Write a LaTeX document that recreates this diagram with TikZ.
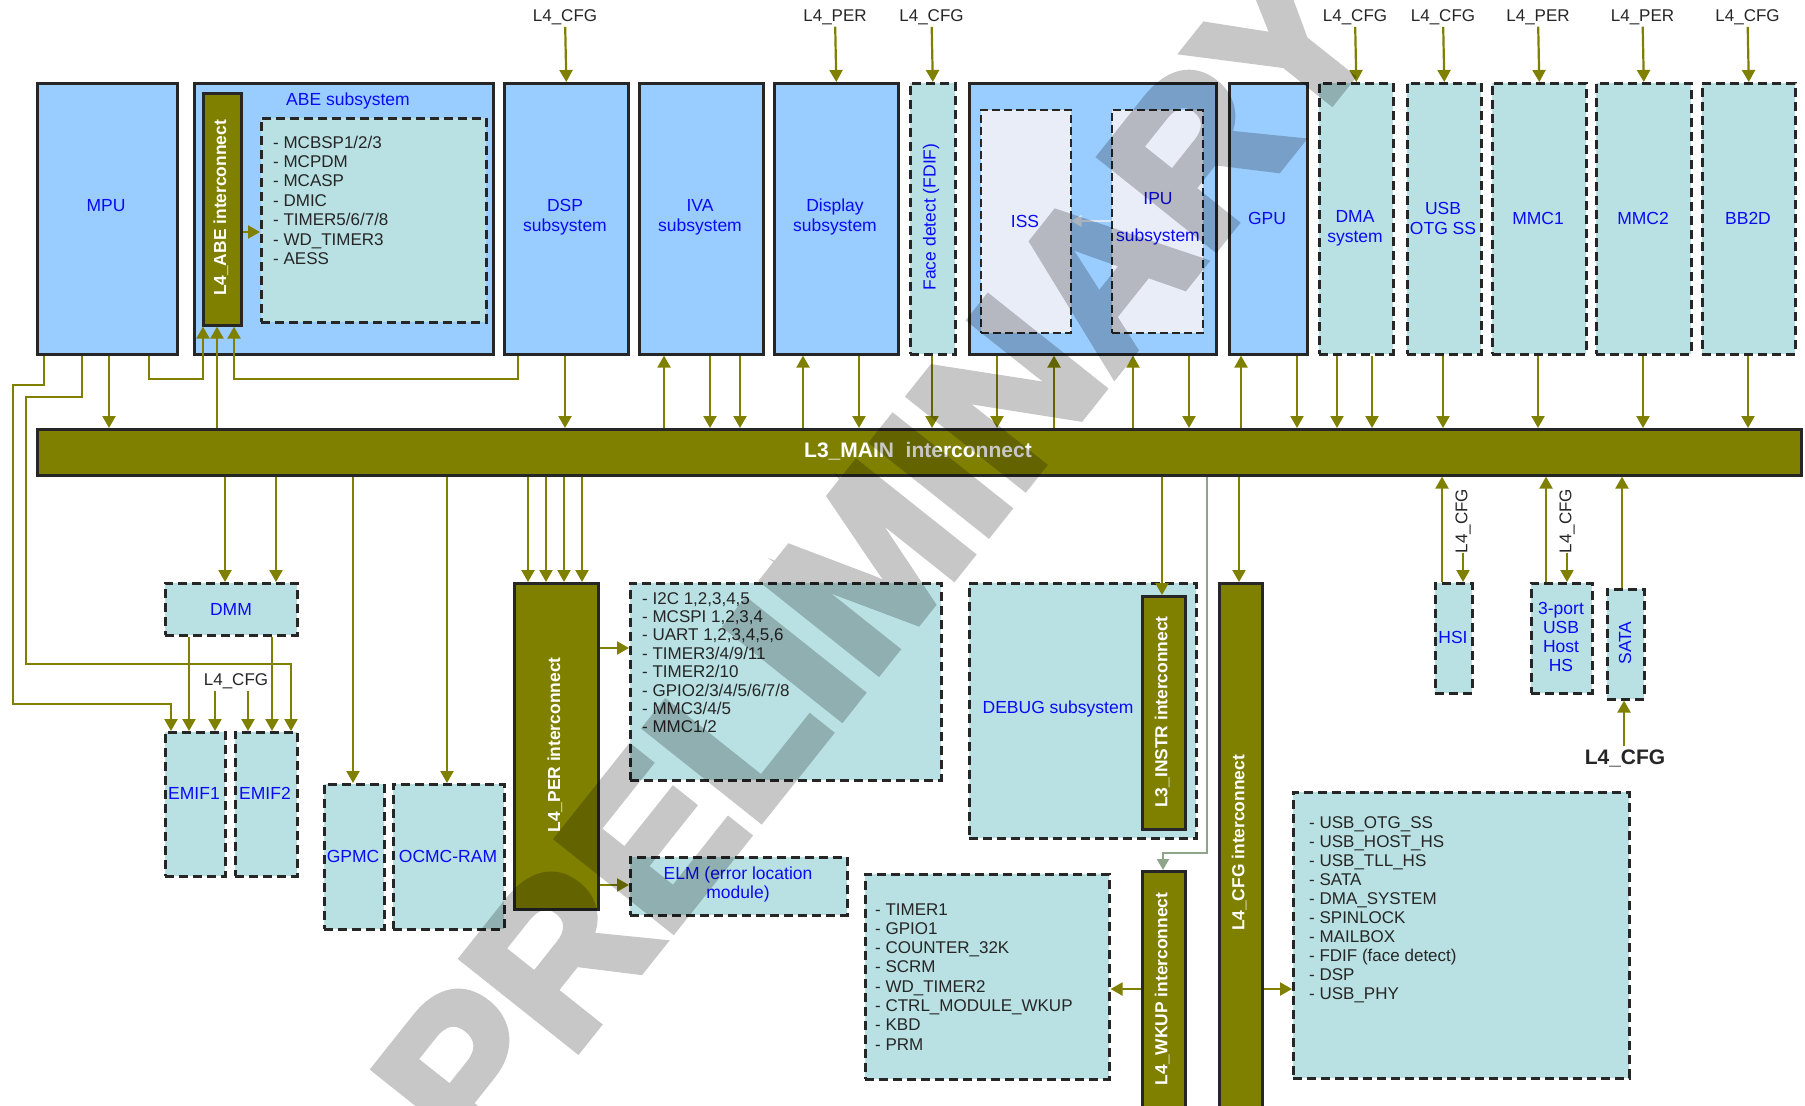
\documentclass[tikz,border=0pt]{standalone}
\usepackage{fontspec}
\setmainfont{Liberation Sans}
\newfontface\wmfont{Liberation Sans Bold}[FakeBold=4]
\usetikzlibrary{arrows.meta}
\definecolor{bord}{HTML}{262626}
\definecolor{lblue}{HTML}{99CCFF}
\definecolor{cyanf}{HTML}{B9E1E3}
\definecolor{palef}{HTML}{E8EDF8}
\definecolor{ol}{HTML}{808000}
\definecolor{tblue}{HTML}{0A0AF5}
\definecolor{tdark}{HTML}{262626}
\definecolor{gline}{HTML}{8FA58A}
\definecolor{warrow}{HTML}{DCE6F6}
\newcommand\mybox[6]{\node[#1, anchor=north west, minimum width={(#4)-(#2)}, minimum height={(#5)-(#3)}] (#6) at (#2,#3) {};}
\newcommand\va[3]{\coordinate (tmpx) at (#1,0); \draw[arr] (#2 -| tmpx) -- (#3 -| tmpx);}
\newcommand\ha[3]{\coordinate (tmpy) at (0,#1); \draw[arr] (#2 |- tmpy) -- (#3 |- tmpy);}
\begin{document}
\begin{tikzpicture}[x=1pt,y=-1pt,
  blk/.style={draw=bord, line width=2.6pt, fill=lblue, inner sep=0pt},
  dbox/.style={draw=bord, line width=2.6pt, dash pattern=on 9pt off 5pt, fill=cyanf, inner sep=0pt},
  pbox/.style={draw=bord, line width=1.6pt, dash pattern=on 8pt off 4pt, fill=palef, inner sep=0pt},
  bar/.style={draw=bord, line width=2.6pt, fill=ol, inner sep=0pt},
  arr/.style={draw=ol, line width=2.2pt, -{Triangle[length=12pt,width=13pt]}},
  garr/.style={draw=gline, line width=2pt, -{Triangle[length=11pt,width=12pt]}},
  bl/.style={text=tblue, font=\fontsize{17.5}{20}\selectfont, align=center, inner sep=0pt},
  wt/.style={text=white, font=\bfseries\fontsize{17.4}{20}\selectfont, inner sep=0pt},
  dk/.style={text=tdark, font=\fontsize{17}{20}\selectfont, inner sep=0pt, inner ysep=2pt},
]
\useasboundingbox[fill=white] (0,0) rectangle (1805,1106);

% ---------- top row ----------
\mybox{blk}{36}{82}{176}{353}{MPU}
\mybox{blk}{193}{82}{492}{353}{ABE}
\mybox{bar}{202}{92}{240}{324}{ABEbar}
\mybox{dbox}{260}{117}{485}{321}{ABEin}
\mybox{blk}{503}{82}{627}{353}{DSP}
\mybox{blk}{638}{82}{762}{353}{IVA}
\mybox{blk}{773}{82}{897}{353}{DISP}
\mybox{dbox}{909}{82}{954}{353}{FDIF}
\mybox{blk}{968}{82}{1215}{353}{ISP}
\mybox{pbox}{980}{109}{1070}{332}{ISS}
\mybox{pbox}{1111}{109}{1202}{332}{IPU}
\mybox{blk}{1228}{82}{1306}{353}{GPU}
\mybox{dbox}{1318}{82}{1392}{353}{DMA}
\mybox{dbox}{1406}{82}{1480}{353}{USB}
\mybox{dbox}{1491}{82}{1585}{353}{MMC1}
\mybox{dbox}{1595}{82}{1690}{353}{MMC2}
\mybox{dbox}{1701}{82}{1794}{353}{BB2D}
\mybox{bar}{36}{428}{1800}{474}{L3}

% ---------- bottom ----------
\mybox{dbox}{164}{582}{296}{634}{DMM}
\mybox{dbox}{164}{731}{224}{875}{EMIF1}
\mybox{dbox}{234}{731}{296}{875}{EMIF2}
\mybox{dbox}{323}{783}{383}{928}{GPMC}
\mybox{dbox}{392}{783}{503}{928}{OCMC}
\mybox{bar}{513}{582}{597}{908}{PERbar}
\mybox{dbox}{629}{582}{940}{779}{PERl}
\mybox{dbox}{629}{856}{846}{914}{ELM}
\mybox{dbox}{968}{582}{1195}{837}{DEBUG}
\mybox{bar}{1141}{595}{1184}{828}{INSTR}
\mybox{dbox}{864}{873}{1108}{1078}{WKUPl}
\mybox{bar}{1141}{870}{1184}{1115}{WKUPbar}
\mybox{bar}{1218}{582}{1261}{1115}{CFGbar}
\mybox{dbox}{1292}{791}{1628}{1077}{CFGl}
\mybox{dbox}{1434}{582}{1471}{692}{HSI}
\mybox{dbox}{1530}{582}{1591}{692}{USBH}
\mybox{dbox}{1606}{588}{1643}{698}{SATA}

% ---------- texts ----------
\node[bl] (tMPU) at (106,206) {MPU};
\node[bl] (tABE) at (348,101) {ABE subsystem};
\node[wt, rotate=90] (tABEbar) at (221,208) {L4\_ABE interconnect};
\node[text=tdark, inner sep=0pt, anchor=base west] (tABEl) at (273,148) {\parbox[t]{205pt}{\fontsize{17}{19.4}\selectfont\raggedright
- MCBSP1/2/3\\- MCPDM\\- MCASP\\- DMIC\\- TIMER5/6/7/8\\- WD\_TIMER3\\- AESS}};
\node[bl] (tDSP) at (565,217) {DSP\\subsystem};
\node[bl] (tIVA) at (700,217) {IVA\\subsystem};
\node[bl] (tDISP) at (835,217) {Display\\subsystem};
\node[bl, rotate=90] (tFDIF) at (931,217) {Face detect (FDIF)};
\node[bl] (tISS) at (1025,221) {ISS};
\node[bl] (tIPU) at (1158,219) {IPU\\[17pt]subsystem};
\node[bl] (tGPU) at (1267,218) {GPU};
\node[bl] (tDMA) at (1355,228) {DMA\\system};
\node[bl] (tUSB) at (1443,218) {USB\\OTG SS};
\node[bl] (tMMC1) at (1538,218) {MMC1};
\node[bl] (tMMC2) at (1643,218) {MMC2};
\node[bl] (tBB2D) at (1748,218) {BB2D};
\node[text=white, font=\bfseries\fontsize{21}{24}\selectfont, inner sep=0pt] (tL3) at (918,451) {L3\_MAIN\ \ interconnect};

\node[bl] (tDMM) at (231,609) {DMM};
\node[bl] (tE1) at (194,793) {EMIF1};
\node[bl] (tE2) at (265,793) {EMIF2};
\node[bl] (tGPMC) at (353,856) {GPMC};
\node[bl] (tOCMC) at (448,856) {OCMC-RAM};
\node[wt, rotate=90] (tPER) at (555,745) {L4\_PER interconnect};
\node[text=tdark, inner sep=0pt, anchor=base west] (tPERl) at (642,604) {\parbox[t]{280pt}{\fontsize{17}{18.4}\selectfont\raggedright
- I2C 1,2,3,4,5\\- MCSPI 1,2,3,4\\- UART 1,2,3,4,5,6\\- TIMER3/4/9/11\\- TIMER2/10\\- GPIO2/3/4/5/6/7/8\\- MMC3/4/5\\- MMC1/2}};
\node[bl, font=\fontsize{17.5}{19}\selectfont] (tELM) at (738,884) {ELM (error location\\module)};
\node[bl] (tDEBUG) at (1058,709) {DEBUG subsystem};
\node[wt, rotate=90] (tINSTR) at (1162,712) {L3\_INSTR interconnect};
\node[text=tdark, inner sep=0pt, anchor=base west] (tWKl) at (875,915) {\parbox[t]{225pt}{\fontsize{17}{19.3}\selectfont\raggedright
- TIMER1\\- GPIO1\\- COUNTER\_32K\\- SCRM\\- WD\_TIMER2\\- CTRL\_MODULE\_WKUP\\- KBD\\- PRM}};
\node[wt, rotate=90] (tWK) at (1162,989) {L4\_WKUP interconnect};
\node[wt, rotate=90] (tCFG) at (1239,843) {L4\_CFG interconnect};
\node[text=tdark, inner sep=0pt, anchor=base west] (tCFGl) at (1309,828) {\parbox[t]{300pt}{\fontsize{17}{19.1}\selectfont\raggedright
- USB\_OTG\_SS\\- USB\_HOST\_HS\\- USB\_TLL\_HS\\- SATA\\- DMA\_SYSTEM\\- SPINLOCK\\- MAILBOX\\- FDIF (face detect)\\- DSP\\- USB\_PHY}};
\node[bl] (tHSI) at (1453,637) {HSI};
\node[bl, font=\fontsize{17.5}{19.3}\selectfont] (tUSBH) at (1561,637) {3-port\\USB\\Host\\HS};
\node[bl, rotate=90] (tSATA) at (1625,643) {SATA};

% ---------- L4 labels ----------
\node[dk] (l1) at (565,17) {L4\_CFG};
\node[dk] (l2) at (835,17) {L4\_PER};
\node[dk] (l3) at (931.5,17) {L4\_CFG};
\node[dk] (l4) at (1355,17) {L4\_CFG};
\node[dk] (l5) at (1443,17) {L4\_CFG};
\node[dk] (l6) at (1538,17) {L4\_PER};
\node[dk] (l7) at (1642.5,17) {L4\_PER};
\node[dk] (l8) at (1747.5,17) {L4\_CFG};
\node[dk] (lE) at (236,681) {L4\_CFG};
\node[dk, rotate=90] (lH) at (1463,521) {L4\_CFG};
\node[dk, rotate=90] (lU) at (1567,521) {L4\_CFG};
\node[text=tdark, font=\bfseries\fontsize{21}{24}\selectfont, inner sep=0pt, inner ysep=3pt] (lS) at (1625,758) {L4\_CFG};

\draw[arr] (l1) -- (DSP.north);
\draw[arr] (l2) -- (DISP.north);
\draw[arr] (l3) -- (FDIF.north);
\draw[arr] (l4) -- (DMA.north);
\draw[arr] (l5) -- (USB.north);
\draw[arr] (l6) -- (MMC1.north);
\draw[arr] (l7) -- (MMC2.north);
\draw[arr] (l8) -- (BB2D.north);

% ---------- top row <-> L3 ----------
\va{109}{MPU.south}{L3.north}
\va{565}{DSP.south}{L3.north}
\va{664}{L3.north}{IVA.south}
\va{710}{IVA.south}{L3.north}
\va{740}{IVA.south}{L3.north}
\va{803}{L3.north}{DISP.south}
\va{859}{DISP.south}{L3.north}
\va{932}{FDIF.south}{L3.north}
\va{997}{ISP.south}{L3.north}
\va{1054}{L3.north}{ISP.south}
\va{1133}{L3.north}{ISP.south}
\va{1189}{ISP.south}{L3.north}
\va{1241}{L3.north}{GPU.south}
\va{1297}{GPU.south}{L3.north}
\va{1337}{DMA.south}{L3.north}
\va{1372}{DMA.south}{L3.north}
\va{1443}{USB.south}{L3.north}
\va{1538}{MMC1.south}{L3.north}
\va{1643}{MMC2.south}{L3.north}
\va{1748}{BB2D.south}{L3.north}
\va{217}{L3.north}{ABEbar.south}
\ha{232}{ABEbar.east}{ABEin.west}
\draw[draw=warrow, line width=2pt, -{Triangle[length=10pt,width=12pt]}] (IPU.west |- tISS) -- (ISS.east |- tISS);

\coordinate (ab0) at (149,379);
\coordinate (ab1) at (203,379);
\coordinate (ds0) at (518,379);
\coordinate (ab3) at (234,379);
\draw[arr] (MPU.south -| ab0) |- (ab1) -- (ABEbar.south -| ab1);
\draw[arr] (DSP.south -| ds0) |- (ab3) -- (ABEbar.south -| ab3);

\coordinate (e1a) at (44,385);
\coordinate (e1b) at (13,385);
\coordinate (e1c) at (171,704);
\draw[arr] (MPU.south -| e1a) |- (e1b) |- (e1c) -- (EMIF1.north -| e1c);
\coordinate (e2a) at (82,397);
\coordinate (e2b) at (26,397);
\coordinate (e2c) at (291,664);
\draw[arr] (MPU.south -| e2a) |- (e2b) |- (e2c) -- (EMIF2.north -| e2c);

% ---------- below L3 ----------
\va{225}{L3.south}{DMM.north}
\va{276}{L3.south}{DMM.north}
\va{189}{DMM.south}{EMIF1.north}
\va{272}{DMM.south}{EMIF2.north}
\va{215}{lE.south}{EMIF1.north}
\va{248}{lE.south}{EMIF2.north}
\va{353}{L3.south}{GPMC.north}
\va{447}{L3.south}{OCMC.north}
\va{528}{L3.south}{PERbar.north}
\va{546}{L3.south}{PERbar.north}
\va{564}{L3.south}{PERbar.north}
\va{582}{L3.south}{PERbar.north}
\ha{648}{PERbar.east}{PERl.west}
\ha{885}{PERbar.east}{ELM.west}
\va{1162}{L3.south}{INSTR.north}
\coordinate (g1) at (1207,853);
\coordinate (g2) at (1163,853);
\draw[garr] (L3.south -| g1) |- (g2) -- (WKUPbar.north -| g2);
\va{1239}{L3.south}{CFGbar.north}
\ha{989}{WKUPbar.west}{WKUPl.east}
\ha{989}{CFGbar.east}{CFGl.west}
\va{1442}{HSI.north}{L3.south}
\va{1463}{lH.west}{HSI.north}
\va{1546}{USBH.north}{L3.south}
\va{1567}{lU.west}{USBH.north}
\va{1622}{SATA.north}{L3.south}
\va{1624}{lS.north}{SATA.south}

% ---------- watermark ----------
\begin{scope}[transparency group, opacity=0.22]
\node[rotate=51.5, text=black, font=\wmfont\fontsize{212}{212}\selectfont, inner sep=0pt] (wm) at (876,557) {PRELIMINARY};
\end{scope}
\end{tikzpicture}
\end{document}
